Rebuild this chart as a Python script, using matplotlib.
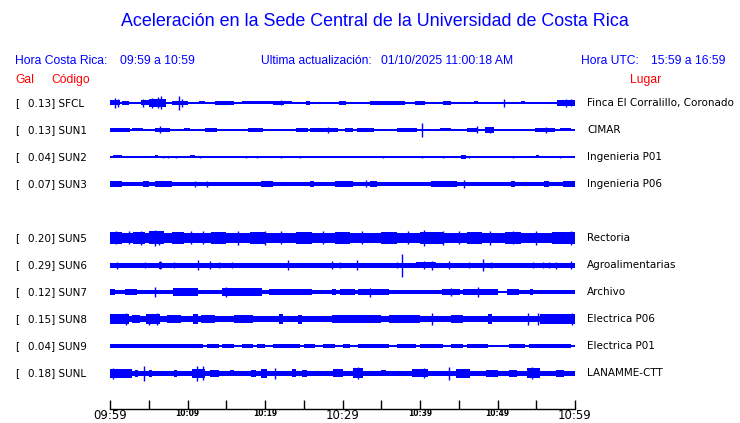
#!/usr/bin/env python
# Acceleration traces, UCR Sede Central

import matplotlib
matplotlib.use("Agg")
import matplotlib.pyplot as plt

BLUE = "#0000ff"
RED = "#ff0000"

# stations, top to bottom (row 4 is empty: no SUN4)
codes = ["SFCL", "SUN1", "SUN2", "SUN3", "SUN5", "SUN6", "SUN7", "SUN8", "SUN9", "SUNL"]
rows = [0, 1, 2, 3, 5, 6, 7, 8, 9, 10]
peak_gal = [0.13, 0.13, 0.04, 0.07, 0.20, 0.29, 0.12, 0.15, 0.04, 0.18]
places = ["Finca El Corralillo, Coronado", "CIMAR", "Ingenieria P01", "Ingenieria P06",
          "Rectoria", "Agroalimentarias", "Archivo", "Electrica P06", "Electrica P01",
          "LANAMME-CTT"]

# trace envelopes: (start min, end min, half amplitude)
# minutes after 09:59, amplitude in display units (27 units = one row)
sfcl_env = [(0, 60, 1), (0.0, 1.3, 2.5), (1.5, 2.4, 1.8), (4.0, 5.0, 2.5), (5.0, 7.2, 4.0),
            (8.0, 10.0, 2), (11.5, 12.2, 1.5), (13.5, 16.0, 1.8), (17.0, 23.5, 1.5),
            (21, 22.5, 2.0), (25.3, 25.8, 1.6), (29.6, 30.4, 1.8), (33.5, 38.0, 1.6),
            (39.4, 40.6, 1.8), (43.0, 44.0, 1.8), (47, 47.5, 1.5), (53, 53.5, 1.5),
            (57.7, 60.0, 3.0)]
sfcl_spk = [(0.6, 5), (1.0, 4), (4.2, 4), (5.4, 5), (6.2, 5.5), (6.6, 6.5), (8.9, 7),
            (9.3, 4), (22, 2.5), (50.8, 4), (58.8, 4), (59.5, 3.5)]

sun1_env = [(0, 60, 1), (0.0, 2.6, 1.8), (2.8, 4.3, 1.5), (5.8, 7.7, 2.2), (9.5, 10.3, 1.5),
            (12.3, 13.8, 2.0), (17.8, 19.8, 1.6), (24.0, 25.5, 2.0), (25.8, 29.4, 2.0),
            (30.3, 31.4, 1.6), (31.9, 34.0, 1.8), (37.0, 39.6, 2.0), (42.6, 44.0, 1.5),
            (46.0, 47.4, 1.6), (48.4, 49.5, 2.6), (54.8, 57.4, 2.0), (58, 59.5, 1.5)]
sun1_spk = [(6.5, 3.5), (28.1, 3), (40.2, 7), (47.4, 3.5), (49.0, 3), (56.3, 3)]

sun2_env = [(0, 60, 0.7), (0.4, 1.5, 1.5), (5.8, 6.2, 1.5), (10.3, 11.0, 1.5),
            (30.4, 31.4, 1.4), (32.3, 33.5, 1.2), (45.3, 45.9, 2.0), (55.0, 55.4, 1.5)]
sun2_spk = [(6.8, 1.2), (7.5, 1.2), (8.5, 1.2), (11.6, 1.2), (17.5, 1.2), (19, 1),
            (22, 1.2), (24.5, 1.2), (35.2, 1.2), (40.2, 1.2), (43, 1.2), (46.3, 1.2),
            (52, 1.2), (58, 1.2)]

sun3_env = [(0, 60, 2.2), (0.0, 1.5, 3.0), (4.2, 5.0, 2.6), (5.8, 8.0, 2.6), (19.5, 21.0, 3.0),
            (25.8, 26.3, 3.0), (29.0, 31.4, 3.0), (33.5, 34.5, 2.6), (41.4, 44.8, 2.6),
            (51.8, 52.3, 3.0), (56.0, 56.7, 3.0), (58.5, 60, 2.7)]
sun3_spk = [(11, 3), (12.5, 3), (33, 3.5), (45.7, 4)]

sun5_env = [(0, 60, 5.3), (0.0, 1.5, 6.2), (3.0, 4.5, 6.0), (5.0, 7.0, 6.5), (8.0, 9.5, 6.0),
            (13, 15, 6), (18, 20, 6.2), (24, 26, 6), (29, 31, 6.2), (35, 37, 6),
            (40, 43, 6.2), (46, 48, 6.2), (51, 53, 6), (57, 60, 6.3)]
sun5_spk = [(0.8, 6.5), (2.5, 6.5), (4, 7), (5.8, 8), (6.3, 7), (10.5, 6.5), (12, 6.5),
            (16.5, 7), (20, 7), (22, 6.5), (27.5, 6.5), (32.5, 6.5), (38.5, 6.5),
            (40.5, 8), (43, 7), (45, 6.5), (49, 7), (52, 6.5), (55, 7), (59.5, 7.5)]

sun6_env = [(0, 60, 2.5), (6.3, 6.7, 3.5), (39.5, 42, 3.2)]
sun6_spk = [(0.9, 3.5), (4.5, 3), (6.5, 4), (8.3, 3), (11.4, 5), (12.9, 4), (14, 3),
            (15.8, 3), (23.0, 5), (28.6, 4), (29.7, 3), (31.9, 5), (37.0, 3), (37.7, 11.5),
            (40.5, 4), (41.5, 4.5), (43.8, 4), (46.3, 3), (48.1, 6), (49.2, 3), (54.6, 3),
            (55.9, 3), (56.7, 3), (57.5, 3.5), (59.5, 4)]

sun7_env = [(0, 50, 2), (50, 51.2, 0.7), (51.2, 60, 2), (0, 0.7, 3), (1.9, 3.5, 3),
            (8.1, 11.4, 3.6), (14.5, 19.6, 3.8), (20.5, 23, 3), (23, 26, 2.8), (28.7, 29.2, 3),
            (29.7, 31.6, 3.3), (32, 36, 3.3), (42.8, 45.2, 3.3), (45.5, 50, 3),
            (51.2, 52.8, 3.3), (54.2, 54.6, 3)]
sun7_spk = [(5.8, 5), (15, 5), (33.5, 4.5), (44, 4.2), (47.5, 5)]

sun8_env = [(0, 60, 3.4), (0, 2.4, 5), (2.9, 3.9, 4), (4.7, 6.5, 5), (7.3, 9.2, 4),
            (10.7, 11.3, 5), (11.8, 13.6, 4), (16, 18.5, 4), (21.8, 22.3, 5),
            (24.2, 24.8, 4.5), (28.6, 35, 4.2), (36, 40, 4.1), (44, 45.5, 4),
            (48.8, 49.3, 5), (55.5, 60, 5)]
sun8_spk = [(2, 6), (5, 5.5), (6, 6), (41.5, 6), (53.9, 6), (55.2, 6), (59.6, 6)]

sun9_env = [(0, 60, 0.6), (0, 12, 2), (12.5, 14, 2), (14.5, 16, 1.8), (17, 18.5, 1.8),
            (19, 20, 1.8), (21, 24.5, 1.8), (25, 26.5, 1.8), (27.5, 29, 1.8), (30, 31, 1.8),
            (32, 36, 2), (37, 39.5, 1.8), (40, 43, 1.8), (44, 45.5, 2), (46, 48.8, 1.8),
            (51.5, 53.5, 1.8), (54, 59.5, 1.8)]
sun9_spk = []

sunl_env = [(0, 60, 2.5), (0, 2.8, 4.5), (3.2, 3.6, 3.5), (5, 5.4, 3.5), (8.2, 8.6, 3.5),
            (10.6, 12.3, 4.5), (12.9, 14.1, 3.5), (15.5, 16, 3), (18.2, 18.8, 3.5),
            (19.5, 20.3, 4.5), (23.5, 24, 4), (24.8, 25.4, 3.5), (28.8, 30, 4),
            (31.4, 32.6, 5), (35, 35.6, 3), (39, 41, 4), (44.6, 46.5, 4.5), (48.5, 50, 3.5),
            (51.5, 52.5, 3.5), (53.8, 55.5, 5), (57.6, 58.6, 3.5)]
sunl_spk = [(0.4, 5.5), (4.4, 7.5), (11.2, 7.5), (12.0, 7), (21.3, 5.5), (32, 6),
            (40.5, 5), (43.8, 6.5), (54.5, 6)]

envelopes = [sfcl_env, sun1_env, sun2_env, sun3_env, sun5_env, sun6_env, sun7_env,
             sun8_env, sun9_env, sunl_env]
spikes = [sfcl_spk, sun1_spk, sun2_spk, sun3_spk, sun5_spk, sun6_spk, sun7_spk,
          sun8_spk, sun9_spk, sunl_spk]

tick_minutes = list(range(0, 61, 5))
tick_labels = ["09:59", "", "10:09", "", "10:19", "", "10:29", "", "10:39", "",
               "10:49", "", "10:59"]
big_labels = ["09:59", "10:29", "10:59"]

W, H = 740, 423
fig = plt.figure(figsize=(W / 100, H / 100), dpi=100)


def fx(px):
    return px / W


def fy(py):
    return 1 - py / H


head = dict(family="Liberation Sans", va="center")
fig.text(fx(375), fy(22), "Aceleración en la Sede Central de la Universidad de Costa Rica",
         ha="center", color=BLUE, fontsize=12.9, **head)
fig.text(fx(15), fy(61), "Hora Costa Rica:", color=BLUE, fontsize=8.7, **head)
fig.text(fx(120), fy(61), "09:59 a 10:59", color=BLUE, fontsize=8.7, **head)
fig.text(fx(261), fy(61), "Ultima actualización:", color=BLUE, fontsize=8.7, **head)
fig.text(fx(381), fy(61), "01/10/2025 11:00:18 AM", color=BLUE, fontsize=8.7, **head)
fig.text(fx(581), fy(61), "Hora UTC:", color=BLUE, fontsize=8.7, **head)
fig.text(fx(651), fy(61), "15:59 a 16:59", color=BLUE, fontsize=8.7, **head)
fig.text(fx(15), fy(80), "Gal", color=RED, fontsize=8.7, **head)
fig.text(fx(51), fy(80), "Código", color=RED, fontsize=8.7, **head)
fig.text(fx(630), fy(80), "Lugar", color=RED, fontsize=8.7, **head)

# traces
row_px = 27
ax = fig.add_axes([fx(110), fy(373 + row_px / 2), 465 / W, 11 * row_px / H])
ax.set_xlim(0, 60)
ax.set_ylim(10.5, -0.5)
ax.axis("off")

for code, r, g, place, env, spk in zip(codes, rows, peak_gal, places, envelopes, spikes):
    for t0, t1, a in env:
        ax.bar(t0, 2 * a / row_px, bottom=r - a / row_px, width=t1 - t0, align="edge",
               color=BLUE, linewidth=0)
    for t, a in spk:
        ax.vlines(t, r - a / row_px, r + a / row_px, color=BLUE, lw=1)
    ypx = 103 + r * row_px
    fig.text(fx(15), fy(ypx), "[", fontsize=7.5, va="center", color="black")
    fig.text(fx(27.5), fy(ypx), f"{g:.2f}] {code}", fontsize=7.5, va="center", color="black")
    fig.text(fx(587), fy(ypx), place, fontsize=7.5, va="center", color="black")

# time axis
tax = fig.add_axes([fx(110), fy(409), 465 / W, 0.001])
tax.set_xlim(0, 60)
tax.set_yticks([])
tax.patch.set_visible(False)
for s in ["left", "right", "top"]:
    tax.spines[s].set_visible(False)
tax.spines["bottom"].set_linewidth(1)
tax.set_xticks(tick_minutes)
tax.set_xticklabels(tick_labels)
tax.tick_params(axis="x", direction="in", length=6.5, width=1, pad=0)
for lbl in tax.get_xticklabels():
    if lbl.get_text() in big_labels:
        lbl.set_fontsize(8.5)
    else:
        lbl.set_fontsize(5.5)
        lbl.set_fontweight("bold")

fig.savefig("out.png", dpi=100)
